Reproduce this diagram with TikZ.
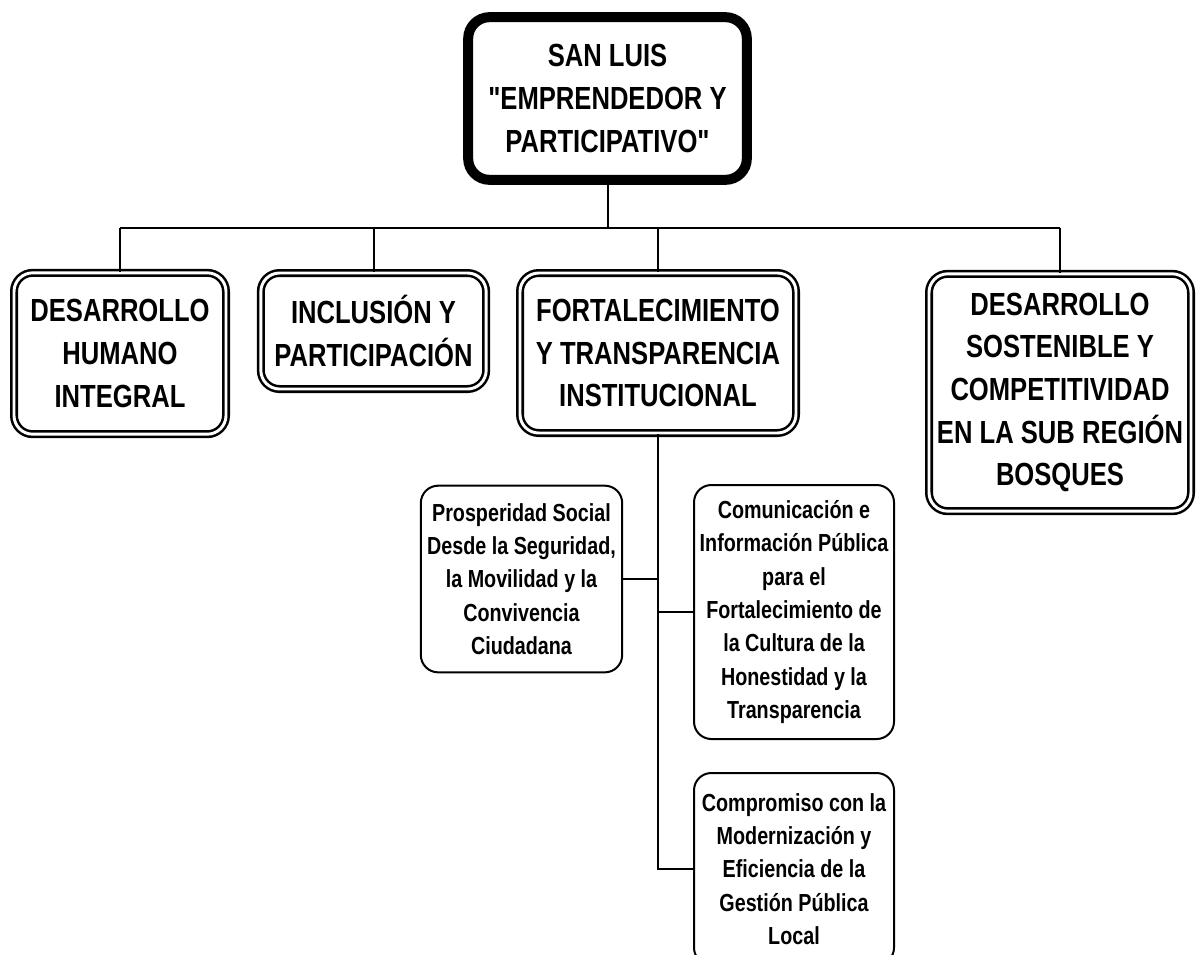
\documentclass[tikz,border=0pt]{standalone}
\usepackage{fontspec}
\setmainfont{Liberation Sans}[FakeStretch=0.8, Ligatures=TeXOff]
\usepackage{tikz}

\tikzset{
  rootbox/.style={draw, line width=7.5pt, rounded corners=16pt, inner sep=0pt,
    align=center, font=\bfseries\fontsize{24}{32}\selectfont},
  areabox/.style={draw, double, line width=1.9pt, double distance=2.2pt,
    rounded corners=14pt, inner sep=0pt, align=center,
    font=\bfseries\fontsize{24}{32}\selectfont},
  progbox/.style={draw, line width=1.5pt, rounded corners=13pt, inner sep=0pt,
    align=center, font=\bfseries\fontsize{18.5}{25}\selectfont},
  link/.style={line width=1.5pt}
}

\begin{document}
\begin{tikzpicture}[x=0.75pt, y=-0.75pt]
    \useasboundingbox (0,0) rectangle (1198,954);

    % root
    \node[rootbox, minimum width=209pt, minimum height=122pt] (root) at (607.5,98.5)
      {SAN LUIS\\"EMPRENDEDOR Y\\PARTICIPATIVO"};

    % areas
    \node[areabox, minimum width=159pt, minimum height=121pt] (humano) at (120,353.5)
      {DESARROLLO\\HUMANO\\INTEGRAL};
    \node[areabox, minimum width=169pt, minimum height=87pt] (inclusion) at (373.5,331)
      {INCLUSIÓN Y\\PARTICIPACIÓN};
    \node[areabox, minimum width=207pt, minimum height=120pt] (fortal) at (658,353)
      {FORTALECIMIENTO\\Y TRANSPARENCIA\\INSTITUCIONAL};
    \node[areabox, minimum width=196.5pt, minimum height=178pt] (sostenible) at (1060,392.5)
      {DESARROLLO\\SOSTENIBLE Y\\COMPETITIVIDAD\\EN LA SUB REGIÓN\\BOSQUES};

    % programs
    \node[progbox, minimum width=151pt, minimum height=140pt] (prosp) at (521.5,579)
      {Prosperidad Social\\Desde la Seguridad,\\la Movilidad y la\\Convivencia\\Ciudadana};
    \node[progbox, minimum width=150pt, minimum height=190.5pt] (comun) at (794,612)
      {Comunicación e\\Información Pública\\para el\\Fortalecimiento de\\la Cultura de la\\Honestidad y la\\Transparencia};
    \node[progbox, minimum width=150pt, minimum height=144pt] (compr) at (794,869)
      {Compromiso con la\\Modernización y\\Eficiencia de la\\Gestión Pública\\Local};

    % connectors
    \coordinate (bus) at (0,228);
    \draw[link] (root.south) -- (root.south |- bus);
    \draw[link] (humano.north |- bus) -- (sostenible.north |- bus);
    \foreach \n in {humano,inclusion,fortal,sostenible}
      \draw[link] (\n.north) -- (\n.north |- bus);

    \draw[link] (fortal.south) |- (compr.west);
    \draw[link] (prosp.east) -- (prosp.east -| fortal.south);
    \draw[link] (comun.west) -- (comun.west -| fortal.south);
\end{tikzpicture}
\end{document}
